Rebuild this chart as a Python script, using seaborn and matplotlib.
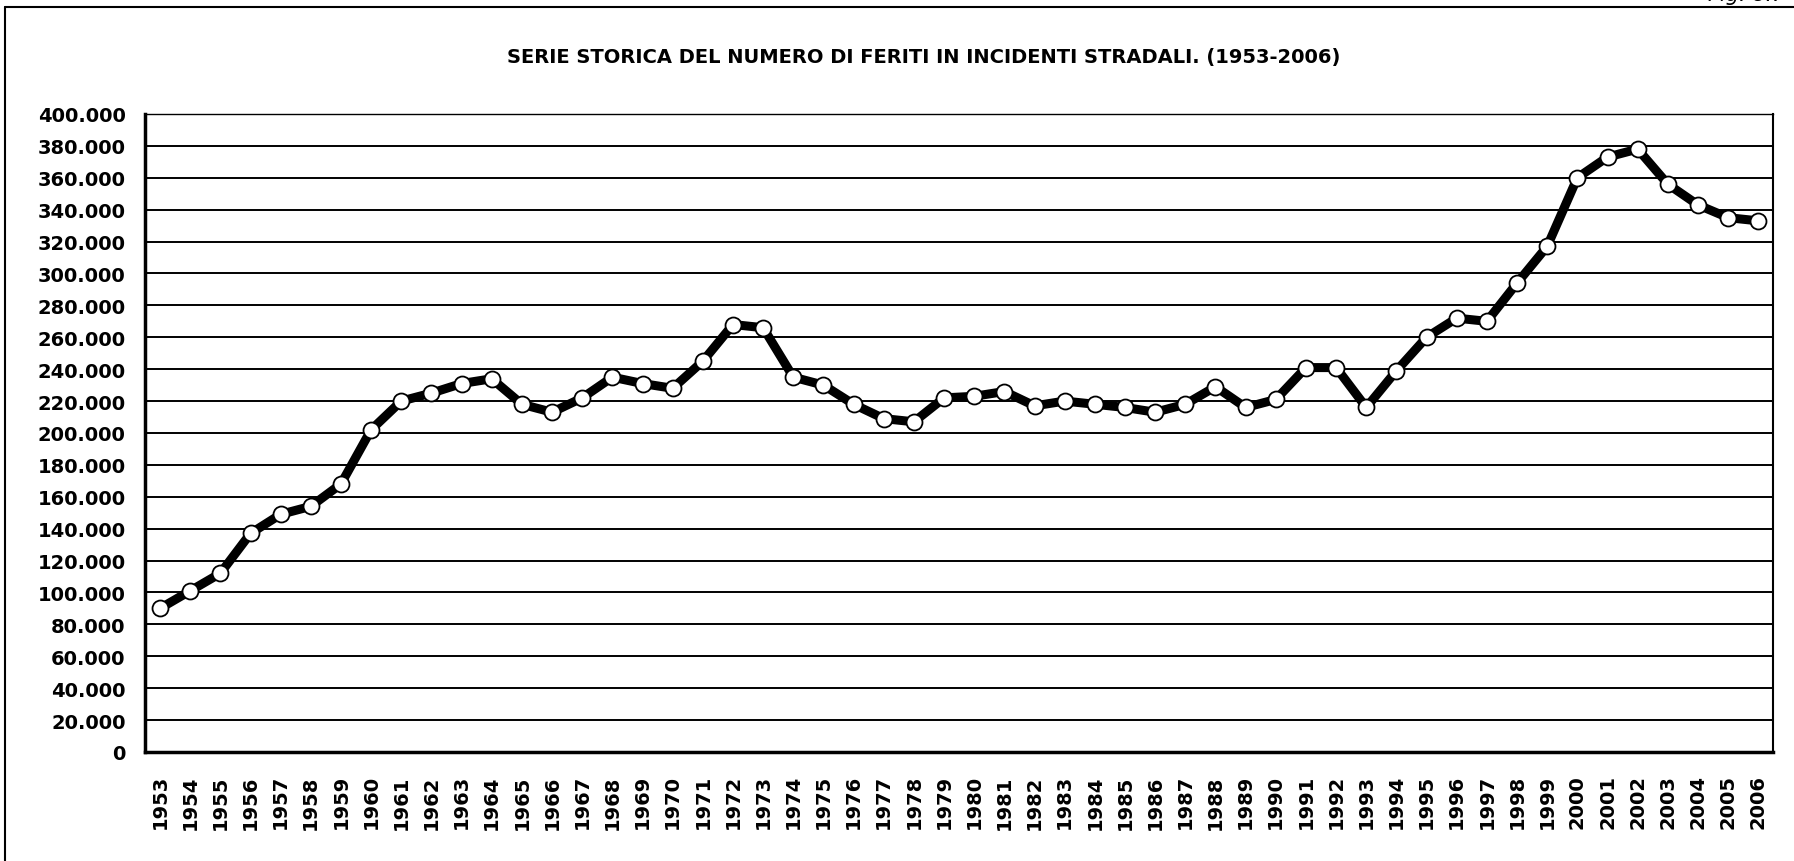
import numpy as np
import pandas as pd
import matplotlib
matplotlib.use("Agg")
import matplotlib.pyplot as plt
import seaborn as sns
from matplotlib.ticker import FuncFormatter, MultipleLocator

# Dati: feriti in incidenti stradali 1953-2006
anni = list(range(1953, 2007))
feriti = [
    90000, 101000, 112000, 137000, 149000, 154000, 168000, 202000, 220000, 225000,
    231000, 234000, 218000, 213000, 222000, 235000, 231000, 228000, 245000, 268000,
    266000, 235000, 230000, 218000, 209000, 207000, 222000, 223000, 226000, 217000,
    220000, 218000, 216000, 213000, 218000, 229000, 216000, 221000, 241000, 241000,
    216000, 239000, 260000, 272000, 270000, 294000, 317000, 360000, 373000, 378000,
    356000, 343000, 335000, 333000,
]
titolo = "SERIE STORICA DEL NUMERO DI FERITI IN INCIDENTI STRADALI. (1953-2006)"

df = pd.DataFrame({"pos": np.arange(len(anni)), "anno": anni, "feriti": feriti})

sns.set_style("white")
plt.rcParams["font.family"] = ["DejaVu Sans"]
plt.rcParams["text.color"] = "black"
plt.rcParams["xtick.color"] = "black"
plt.rcParams["ytick.color"] = "black"

fig = plt.figure(figsize=(17.94, 8.62), dpi=100)
ax = fig.add_axes([0.0808, 0.1265, 0.9077, 0.7401])

# cornice esterna
fig.add_artist(plt.Line2D([0.003, 0.003], [0.0, 0.991], color="black", lw=1.5))
fig.add_artist(plt.Line2D([0.003, 1.0], [0.991, 0.991], color="black", lw=1.5))
# etichetta della figura, tagliata dal bordo superiore come nell'originale
fig.text(0.995, 1.006, "Fig. 8.7", ha="right", va="center", fontsize=15, style="italic")

sns.lineplot(data=df, x="pos", y="feriti", ax=ax, color="black", lw=6.5,
             marker="o", markersize=11.5, markerfacecolor="white",
             markeredgecolor="black", markeredgewidth=1.3, zorder=3)

ax.set_xlim(-0.5, len(anni) - 0.5)
ax.set_ylim(0, 400000)
ax.yaxis.set_major_locator(MultipleLocator(20000))
ax.yaxis.set_major_formatter(FuncFormatter(lambda v, p: f"{int(v):,}".replace(",", ".")))
ax.grid(axis="y", color="black", lw=1.4)
ax.set_axisbelow(True)

ax.set_xticks(df["pos"])
ax.set_xticklabels([str(a) for a in anni], rotation=90)
ax.set_xticks(np.arange(-0.5, len(anni)), minor=True)
ax.tick_params(axis="x", which="major", length=0, pad=16, labelsize=14)
ax.tick_params(axis="x", which="minor", length=8, width=1.5, direction="out", color="black")
ax.tick_params(axis="y", which="major", length=8, width=1.5, direction="out",
               color="black", labelsize=14, pad=6)
for lab in ax.get_xticklabels() + ax.get_yticklabels():
    lab.set_fontweight("bold")

for side in ["left", "bottom", "right", "top"]:
    ax.spines[side].set_visible(True)
    ax.spines[side].set_color("black")
ax.spines["left"].set_linewidth(2.5)
ax.spines["bottom"].set_linewidth(2.5)
ax.spines["right"].set_linewidth(1.5)
ax.spines["top"].set_linewidth(1.0)
ax.set_xlabel("")
ax.set_ylabel("")

fig.text(0.515, 0.933, titolo, ha="center", va="center", fontsize=14, fontweight="bold")

fig.savefig("out.png", dpi=100)
